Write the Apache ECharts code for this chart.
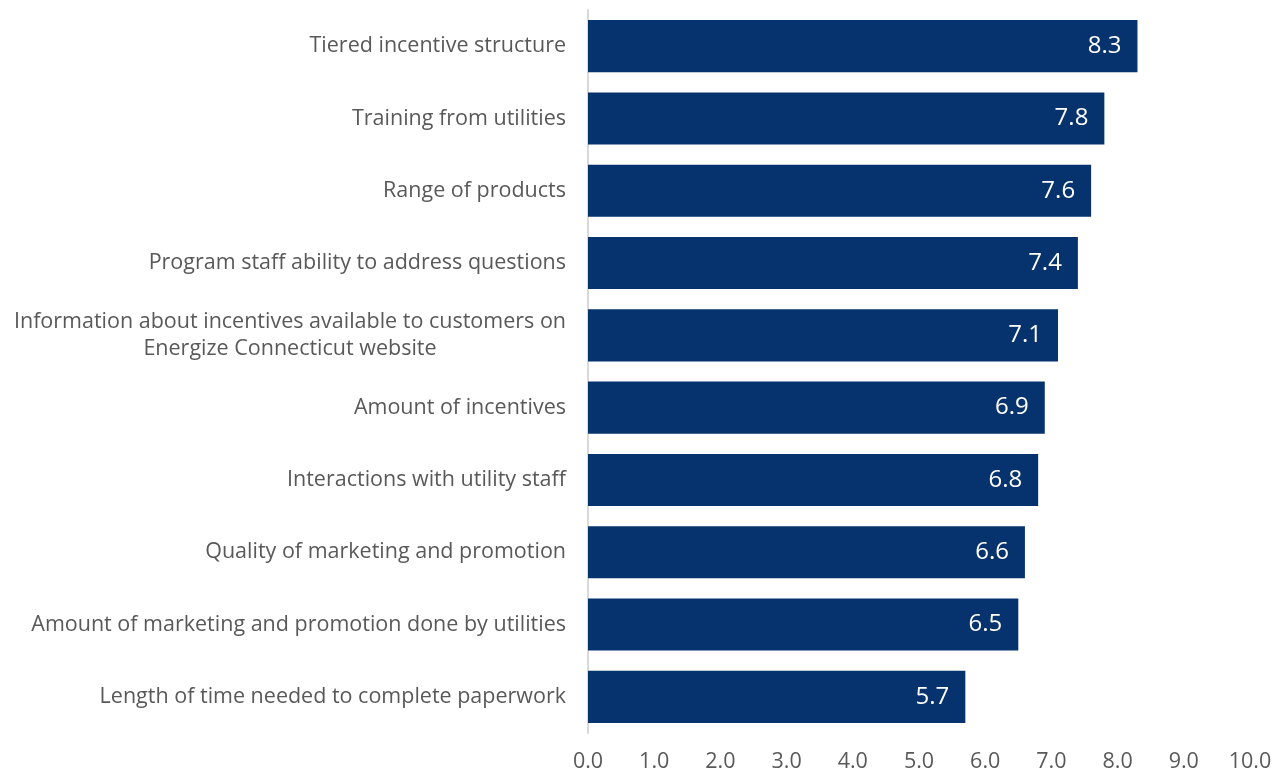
<!DOCTYPE html>
<html>
<head>
<meta charset="utf-8">
<script src="https://cdn.jsdelivr.net/npm/echarts@6/dist/echarts.min.js"></script>
<style>
    html, body { margin: 0; padding: 0; background: #fff; }
    #chart { width: 1286px; height: 774px; }
</style>
</head>
<body>
<div id="chart"></div>
<script>
var categories = [
    'Tiered incentive structure',
    'Training from utilities',
    'Range of products',
    'Program staff ability to address questions',
    'Information about incentives available to customers on\nEnergize Connecticut website',
    'Amount of incentives',
    'Interactions with utility staff',
    'Quality of marketing and promotion',
    'Amount of marketing and promotion done by utilities',
    'Length of time needed to complete paperwork'
];
var scores = [8.3, 7.8, 7.6, 7.4, 7.1, 6.9, 6.8, 6.6, 6.5, 5.7];

var myChart = echarts.init(document.getElementById('chart'));
var option = {
    animation: false,
    textStyle: {
        fontFamily: 'Open Sans'
    },
    grid: {
        left: 588,
        right: 36,
        top: 10,
        bottom: 41
    },
    xAxis: {
        type: 'value',
        min: 0,
        max: 10,
        interval: 1,
        axisLine: { show: false },
        axisTick: { show: false },
        splitLine: { show: false },
        axisLabel: {
            color: '#595959',
            fontSize: 21.5,
            margin: 18,
            formatter: function(v) { return v.toFixed(1); }
        }
    },
    yAxis: {
        type: 'category',
        inverse: true,
        data: categories,
        axisLine: {
            show: true,
            lineStyle: { color: '#d9d9d9', width: 2 }
        },
        axisTick: { show: false },
        axisLabel: {
            color: '#595959',
            fontSize: 21.5,
            margin: 22,
            align: 'right',
            // multi-line labels are centred line by line
            formatter: function(v) {
                return v.split('\n').map(function(s) { return '{c|' + s + '}'; }).join('\n');
            },
            rich: {
                c: {
                    align: 'center',
                    color: '#595959',
                    fontSize: 21.5,
                    lineHeight: 27
                }
            }
        }
    },
    series: [{
        type: 'bar',
        data: scores,
        barCategoryGap: '28%',
        itemStyle: {
            color: '#06336e'
        },
        label: {
            show: true,
            position: 'insideRight',
            distance: 16,
            color: '#ffffff',
            fontSize: 24,
            formatter: function(p) { return p.value.toFixed(1); }
        }
    }]
};
myChart.setOption(option);
</script>
</body>
</html>
